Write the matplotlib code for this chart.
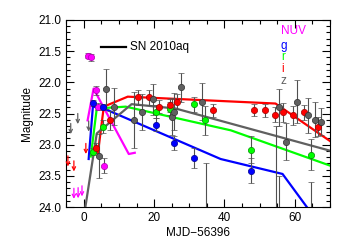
import matplotlib
matplotlib.use('Agg')
import matplotlib.pyplot as plt
from matplotlib.ticker import MultipleLocator, FormatStrFormatter

plt.rcParams['font.family'] = ['Liberation Sans', 'DejaVu Sans']

# model light curves (days since MJD 56396, magnitude)
nuv_mod_t = [1.1, 2.8, 4.3, 12.8, 14.5]
nuv_mod_m = [22.61, 22.10, 22.26, 23.15, 23.13]
g_mod_t = [1.4, 2.6, 5.7, 38.9, 56.5, 66.0]
g_mod_m = [23.23, 22.39, 22.42, 23.23, 23.47, 24.2]
r_mod_t = [2.0, 3.7, 11.9, 41.8, 70.2]
r_mod_m = [23.19, 22.42, 22.39, 22.77, 23.34]
i_mod_t = [4.0, 5.7, 12.5, 54.5, 70.2]
i_mod_m = [23.15, 22.39, 22.23, 22.34, 22.95]
z_mod_t = [0.3, 3.7, 13.6, 26.1, 70.2]
z_mod_m = [24.06, 22.82, 22.35, 22.42, 23.10]

# photometry
nuv_t = [1.2, 2.0, 3.4, 4.0, 5.7]
nuv_m = [21.57, 21.60, 22.13, 22.39, 23.34]
nuv_e = [0.04, 0.05, 0.07, 0.06, 0.12]
g_t = [2.6, 5.4, 20.5, 25.6, 31.3, 47.4]
g_m = [22.33, 22.39, 22.68, 22.97, 23.21, 23.42]
g_e = [0.05, 0.05, 0.10, 0.11, 0.16, 0.20]
r_t = [2.6, 5.4, 20.5, 24.4, 31.3, 34.4, 47.4, 64.5]
r_m = [23.11, 22.71, 22.47, 22.42, 22.35, 22.61, 23.08, 23.16]
r_e = [0.06, 0.10, 0.10, 0.10, 0.12, 0.23, 0.22, 0.25]
i_t = [3.4, 7.4, 15.3, 18.5, 21.3, 24.4, 26.4, 36.6, 48.3, 51.4, 54.3, 56.5,
       59.4, 62.5, 66.5]
i_m = [23.05, 22.61, 22.24, 22.24, 22.39, 22.37, 22.31, 22.45, 22.44, 22.45,
       22.52, 22.48, 22.53, 22.48, 22.71]
i_e = [0.08, 0.15, 0.12, 0.12, 0.1, 0.1, 0.12, 0.1, 0.1, 0.1, 0.12, 0.15,
       0.15, 0.12, 0.15]
z_t = [4.3, 6.3, 8.5, 14.2, 16.5, 19.6, 25.0, 25.6, 27.6, 33.5, 34.7, 54.5,
       55.4, 55.6, 57.4, 60.5, 63.6, 64.5, 65.6, 67.3]
z_m = [23.18, 22.10, 22.39, 22.60, 22.47, 22.27, 22.55, 22.47, 22.08, 22.31,
       24.2, 24.3, 22.40, 24.5, 22.95, 22.31, 22.53, 24.6, 22.60, 22.63]
z_e = [0.35, 0.32, 0.30, 0.45, 0.29, 0.25, 0.30, 0.30, 0.23, 0.30,
       0.9, 1.6, 0.30, 1.0, 0.30, 0.35, 0.28, 1.0, 0.28, 0.22]

# upper limits
nuv_lim_t = [-2.8, -1.6, -0.5]
nuv_lim_m = [23.70, 23.69, 23.66]
i_lim_t = [-4.5, -2.8, 0.6]
i_lim_m = [23.18, 23.26, 22.98]
z_lim_t = [-3.7, -1.7, 1.4]
z_lim_m = [22.66, 22.50, 22.62]

bands = ['NUV', 'g', 'r', 'i', 'z']
colors = {'NUV': '#ff00ff', 'g': '#0000ff', 'r': '#00ff00', 'i': '#ff0000', 'z': '#606060'}
edges = {'NUV': '#b000b0', 'g': '#000090', 'r': '#009000', 'i': '#a00000', 'z': '#303030'}

fig = plt.figure(figsize=(3.5, 2.5), dpi=100)
ax = fig.add_axes([0.189, 0.172, 0.754, 0.748])

models = {'NUV': (nuv_mod_t, nuv_mod_m), 'g': (g_mod_t, g_mod_m),
          'r': (r_mod_t, r_mod_m), 'i': (i_mod_t, i_mod_m), 'z': (z_mod_t, z_mod_m)}
data = {'NUV': (nuv_t, nuv_m, nuv_e), 'g': (g_t, g_m, g_e), 'r': (r_t, r_m, r_e),
        'i': (i_t, i_m, i_e), 'z': (z_t, z_m, z_e)}
limits = {'NUV': (nuv_lim_t, nuv_lim_m), 'i': (i_lim_t, i_lim_m), 'z': (z_lim_t, z_lim_m)}

for b in bands:
    t, m = models[b]
    ax.plot(t, m, color=colors[b], lw=1.6, zorder=2)

for b in bands:
    t, m, e = data[b]
    ax.errorbar(t, m, yerr=e, fmt='o', ms=4.5, mfc=colors[b], mec=edges[b], mew=0.5,
                ecolor='#505050', elinewidth=0.8, capsize=2, capthick=0.8, zorder=3)

for b in limits:
    t, m = limits[b]
    for tt, mm in zip(t, m):
        ax.annotate('', xy=(tt, mm + 0.17), xytext=(tt, mm),
                    arrowprops=dict(arrowstyle='->', color=colors[b], lw=0.9,
                                    mutation_scale=6, shrinkA=0, shrinkB=0), zorder=3)

# legend
ax.plot([4.8, 11.9], [21.44, 21.44], color='black', lw=1.6)
ax.text(13.1, 21.44, 'SN 2010aq', fontsize=8.5, va='center', ha='left')
label_y = [21.18, 21.42, 21.60, 21.79, 21.98]
for b, yy in zip(bands, label_y):
    ax.text(56.0, yy, b, color=colors[b], fontsize=8.5, va='center', ha='left')

ax.set_xlim(-5, 70)
ax.set_ylim(24.0, 21.0)
ax.xaxis.set_major_locator(MultipleLocator(20))
ax.xaxis.set_minor_locator(MultipleLocator(5))
ax.yaxis.set_major_locator(MultipleLocator(0.5))
ax.yaxis.set_minor_locator(MultipleLocator(0.1))
ax.yaxis.set_major_formatter(FormatStrFormatter('%.1f'))
ax.tick_params(which='both', direction='in', top=True, right=True, labelsize=8.5, width=0.8)
ax.tick_params(which='major', length=6)
ax.tick_params(which='minor', length=3)
ax.set_xlabel('MJD\u221256396', fontsize=8.5, labelpad=2)
ax.set_ylabel('Magnitude', fontsize=8.5, labelpad=4)

fig.savefig('out.png', dpi=100)
